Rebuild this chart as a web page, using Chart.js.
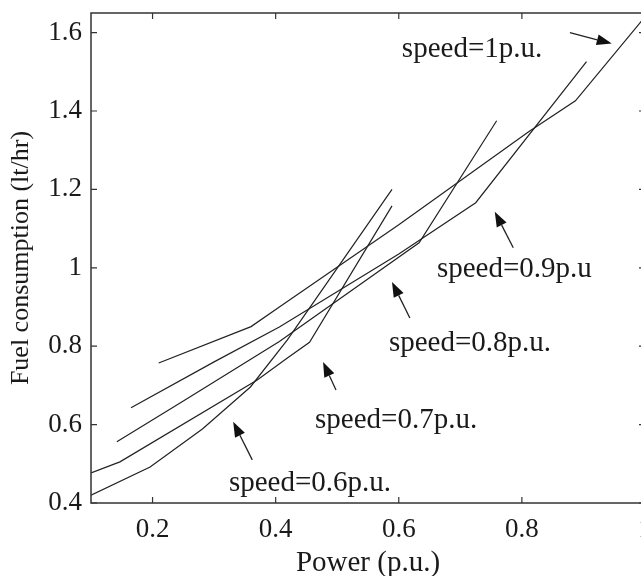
<!DOCTYPE html>
<html>
<head>
<meta charset="utf-8">
<script src="https://cdn.jsdelivr.net/npm/chart.js@4.4.1/dist/chart.umd.min.js"></script>
<style>
  html, body { margin: 0; padding: 0; background: #fff; overflow: hidden; }
  #wrap { width: 660px; height: 576px; }
</style>
</head>
<body>
<div id="wrap"><canvas id="grafico" width="660" height="576"></canvas></div>
<script>
// consumo de combustível (lt/hr) x potência (p.u.), uma curva por velocidade
const potencia06 = [0.1, 0.196, 0.281, 0.359, 0.419, 0.589];
const consumo06  = [0.42, 0.492, 0.589, 0.696, 0.816, 1.2];
const potencia07 = [0.1, 0.147, 0.37, 0.419, 0.455, 0.589];
const consumo07  = [0.477, 0.505, 0.714, 0.77, 0.81, 1.158];
const potencia08 = [0.142, 0.25, 0.406, 0.633, 0.759];
const consumo08  = [0.556, 0.66, 0.812, 1.064, 1.375];
const potencia09 = [0.165, 0.3, 0.406, 0.6, 0.725, 0.905];
const consumo09  = [0.643, 0.76, 0.849, 1.035, 1.166, 1.526];
const potencia10 = [0.21, 0.36, 0.406, 0.6, 0.811, 0.887, 1.0];
const consumo10  = [0.757, 0.85, 0.90, 1.11, 1.347, 1.426, 1.64];

const ticksX = [0.2, 0.4, 0.6, 0.8, 1];
const ticksY = [0.4, 0.6, 0.8, 1, 1.2, 1.4, 1.6];

// anotações (texto + seta), em unidades dos eixos
const rotulos  = ['speed=0.6p.u.', 'speed=0.7p.u.', 'speed=0.8p.u.', 'speed=0.9p.u', 'speed=1p.u.'];
const rotuloX  = [0.324, 0.464, 0.584, 0.662, 0.605];
const rotuloY  = [0.451, 0.612, 0.808, 0.995, 1.556];
const setaDe   = [[0.362, 0.51], [0.498, 0.688], [0.618, 0.872], [0.786, 1.051], [0.878, 1.60]];
const setaPara = [[0.331, 0.607], [0.477, 0.76], [0.589, 0.964], [0.756, 1.143], [0.946, 1.572]];

const fonte = 'Liberation Serif, Times New Roman, serif';
const corTexto = '#1a1a1a';

function pontos(xs, ys) {
    return xs.map((v, i) => ({ x: v, y: ys[i] }));
}

function serie(xs, ys) {
    return {
        data: pontos(xs, ys),
        showLine: true,
        borderColor: '#222',
        borderWidth: 1.2,
        pointRadius: 0,
        fill: false
    };
}

// moldura estilo MATLAB, ticks para dentro, setas e textos
const molduraPlugin = {
    id: 'moldura',
    afterDatasetsDraw(chart) {
        const { ctx, chartArea: a, scales: { x, y } } = chart;
        ctx.save();
        ctx.strokeStyle = '#333';
        ctx.lineWidth = 1.5;
        ctx.strokeRect(a.left, a.top, a.right - a.left, a.bottom - a.top);

        ctx.lineWidth = 1.2;
        const tam = 6;
        ctx.beginPath();
        ticksX.forEach(v => {
            const px = x.getPixelForValue(v);
            ctx.moveTo(px, a.bottom); ctx.lineTo(px, a.bottom - tam);
            ctx.moveTo(px, a.top); ctx.lineTo(px, a.top + tam);
        });
        ticksY.forEach(v => {
            const py = y.getPixelForValue(v);
            ctx.moveTo(a.left, py); ctx.lineTo(a.left + tam, py);
            ctx.moveTo(a.right, py); ctx.lineTo(a.right - tam, py);
        });
        ctx.stroke();

        // setas
        ctx.strokeStyle = '#222';
        ctx.fillStyle = '#111';
        ctx.lineWidth = 1.3;
        setaDe.forEach((de, i) => {
            const x0 = x.getPixelForValue(de[0]), y0 = y.getPixelForValue(de[1]);
            const x1 = x.getPixelForValue(setaPara[i][0]), y1 = y.getPixelForValue(setaPara[i][1]);
            const ang = Math.atan2(y1 - y0, x1 - x0);
            const comp = 15, meia = 5.5;
            const bx = x1 - comp * Math.cos(ang), by = y1 - comp * Math.sin(ang);
            ctx.beginPath();
            ctx.moveTo(x0, y0); ctx.lineTo(bx, by);
            ctx.stroke();
            ctx.beginPath();
            ctx.moveTo(x1, y1);
            ctx.lineTo(bx + meia * Math.sin(ang), by - meia * Math.cos(ang));
            ctx.lineTo(bx - meia * Math.sin(ang), by + meia * Math.cos(ang));
            ctx.closePath();
            ctx.fill();
        });

        // textos
        ctx.fillStyle = corTexto;
        ctx.font = '29px ' + fonte;
        ctx.textAlign = 'left';
        ctx.textBaseline = 'middle';
        rotulos.forEach((t, i) => {
            ctx.fillText(t, x.getPixelForValue(rotuloX[i]), y.getPixelForValue(rotuloY[i]));
        });
        ctx.restore();
    }
};

const ctx = document.getElementById('grafico').getContext('2d');
new Chart(ctx, {
    type: 'scatter',
    data: {
        datasets: [
            serie(potencia06, consumo06),
            serie(potencia07, consumo07),
            serie(potencia08, consumo08),
            serie(potencia09, consumo09),
            serie(potencia10, consumo10)
        ]
    },
    options: {
        responsive: false,
        animation: false,
        layout: { padding: { top: 13, right: 15, bottom: 0, left: 0 } },
        plugins: {
            legend: { display: false },
            tooltip: { enabled: false }
        },
        scales: {
            x: {
                type: 'linear',
                min: 0.1,
                max: 1.0,
                afterBuildTicks: s => { s.ticks = ticksX.map(v => ({ value: v })); },
                afterFit: s => { s.height = 73; s.paddingLeft = 0; s.paddingRight = 0; },
                grid: { display: false, drawTicks: false },
                border: { display: false },
                ticks: {
                    color: corTexto,
                    font: { family: fonte, size: 27 },
                    padding: 11,
                    maxRotation: 0,
                    minRotation: 0,
                    autoSkip: false,
                    callback: v => String(Math.round(v * 10) / 10)
                },
                title: {
                    display: true,
                    text: 'Power (p.u.)',
                    color: corTexto,
                    font: { family: fonte, size: 29, lineHeight: 0.9 },
                    padding: 0
                }
            },
            y: {
                type: 'linear',
                min: 0.4,
                max: 1.65,
                afterBuildTicks: s => { s.ticks = ticksY.map(v => ({ value: v })); },
                afterFit: s => { s.width = 91; s.paddingTop = 0; s.paddingBottom = 0; },
                grid: { display: false, drawTicks: false },
                border: { display: false },
                ticks: {
                    color: corTexto,
                    font: { family: fonte, size: 27 },
                    padding: 9,
                    autoSkip: false,
                    callback: v => String(Math.round(v * 10) / 10)
                },
                title: {
                    display: true,
                    text: 'Fuel consumption (lt/hr)',
                    color: corTexto,
                    font: { family: fonte, size: 26, lineHeight: 1.2 },
                    padding: { top: 6, bottom: 0 }
                }
            }
        }
    },
    plugins: [molduraPlugin]
});
</script>
</body>
</html>
